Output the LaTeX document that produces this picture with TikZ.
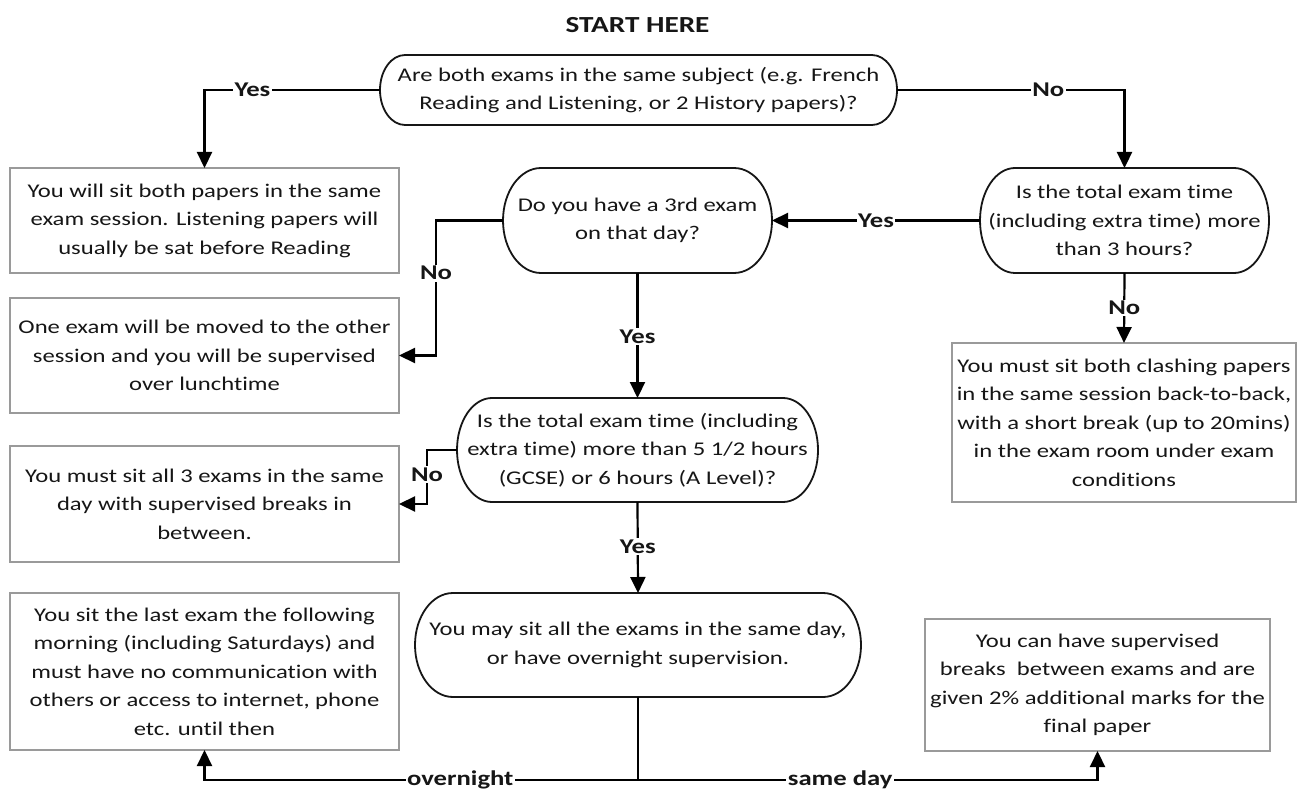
\documentclass[tikz,border=0pt]{standalone}
\usepackage{fontspec}
\setmainfont{Carlito}[FakeStretch=1.27, Ligatures={NoCommon}]
\usetikzlibrary{arrows.meta,calc}
\definecolor{boxgray}{HTML}{9A9A9A}
\definecolor{ink}{HTML}{161616}
\newcommand\bodyfont{\fontsize{19.4}{28.5}\selectfont}
\newcommand\lblfont{\fontsize{21}{24}\selectfont\bfseries}
\newcommand\stad[2]{%
  \draw[term] let \p1=(#1.north), \p2=(#1.south), \n1={(\y1-\y2)/2} in
  ([xshift=#2]#1.north west) -- ([xshift=-#2]#1.north east)
  arc[start angle=90, end angle=-90, x radius=#2, y radius=\n1]
  -- ([xshift=#2]#1.south west)
  arc[start angle=270, end angle=90, x radius=#2, y radius=\n1] -- cycle;}
\begin{document}
\begin{tikzpicture}[x=1pt,y=-1pt,
  txt/.style={inner sep=0pt, outer sep=0pt, align=center, font=\bodyfont, text=ink},
  box/.style={txt, draw=boxgray, line width=1.2pt},
  term/.style={draw=ink, line width=1.8pt},
  arr/.style={draw=black, line width=2.2pt, line join=miter, -{Triangle[length=16pt,width=15pt]}},
  con/.style={draw=black, line width=2.2pt, line join=miter},
  lbl/.style={fill=white, font=\lblfont, text=ink, inner sep=1.5pt}]
\useasboundingbox (0,0) rectangle (1306,794);
\fill[white] (0,0) rectangle (1306,794);

\node[font=\fontsize{23}{26}\selectfont\bfseries, text=ink] (start) at (637.5,25) {START HERE};

% decisions / terminators
\node[txt, minimum width=517pt, minimum height=70pt] (q1) at (638.5,90)
  {Are both exams in the same subject (e.g. French\\Reading and Listening, or 2 History papers)?};
\node[txt, minimum width=269pt, minimum height=105pt] (q3) at (637.5,220.5)
  {Do you have a 3rd exam\\on that day?};
\node[txt, minimum width=289pt, minimum height=105pt] (q2) at (1124.5,220.5)
  {Is the total exam time\\(including extra time) more\\than 3 hours?};
\node[txt, minimum width=361pt, minimum height=104pt] (q4) at (637.5,450)
  {Is the total exam time (including\\extra time) more than 5 1/2 hours\\(GCSE) or 6 hours (A Level)?};
\node[txt, minimum width=446pt, minimum height=104pt] (q5) at (638,645)
  {You may sit all the exams in the same day,\\or have overnight supervision.};
\stad{q1}{25pt}
\stad{q3}{38pt}
\stad{q2}{35pt}
\stad{q4}{35pt}
\stad{q5}{38pt}

% outcome boxes
\node[box, minimum width=389pt, minimum height=105pt] (a1) at (204.5,220.5)
  {You will sit both papers in the same\\exam session. Listening papers will\\usually be sat before Reading};
\node[box, minimum width=389pt, minimum height=115pt] (a2) at (204.5,355.5)
  {One exam will be moved to the other\\session and you will be supervised\\over lunchtime};
\node[box, minimum width=389pt, minimum height=116pt] (a3) at (204.5,504)
  {You must sit all 3 exams in the same\\day with supervised breaks in\\between.};
\node[box, minimum width=344pt, minimum height=159pt] (a4) at (1124,422.5)
  {You must sit both clashing papers\\in the same session back-to-back,\\with a short break (up to 20mins)\\in the exam room under exam\\conditions};
\node[box, minimum width=389pt, minimum height=157pt] (a6) at (204.5,671.5)
  {You sit the last exam the following\\morning (including Saturdays) and\\must have no communication with\\others or access to internet, phone\\etc. until then};
\node[box, minimum width=345pt, minimum height=132pt] (a5) at (1097.5,685)
  {You can have supervised\\breaks\ \ between exams and are\\given 2\% additional marks for the\\final paper};

% connectors
\draw[arr] (q1.west) -- node[lbl, pos=0.727]{Yes} (a1.north |- q1.west) -- (a1.north);
\draw[arr] (q1.east) -- node[lbl, pos=0.665]{No} (q2.north |- q1.east) -- (q2.north);
\draw[arr] (q2.west) -- node[lbl, pos=0.5]{Yes} (q3.east);
\coordinate (c3) at (436,220.5);
\draw[arr] (q3.west) -- (c3) -- node[lbl, pos=0.39]{No} (c3 |- a2.east) -- (a2.east);
\draw[arr] (q3.south) -- node[lbl, pos=0.51]{Yes} (q4.north);
\draw[arr] (q2.south) -- node[lbl, pos=0.5]{No} (a4.north);
\coordinate (c4) at (427,450);
\draw[arr] (q4.west) -- (c4) -- node[lbl, pos=0.46]{No} (c4 |- a3.east) -- (a3.east);
\draw[arr] (q4.south) -- node[lbl, pos=0.49]{Yes} (q5.north);
\coordinate (split) at (638,780);
\draw[con] (q5.south) -- (split);
\draw[arr] (split) -- node[lbl, pos=0.41]{overnight} (a6.south |- split) -- (a6.south);
\draw[arr] (split) -- node[lbl, pos=0.44]{same day} (a5.south |- split) -- (a5.south);
\end{tikzpicture}
\end{document}
